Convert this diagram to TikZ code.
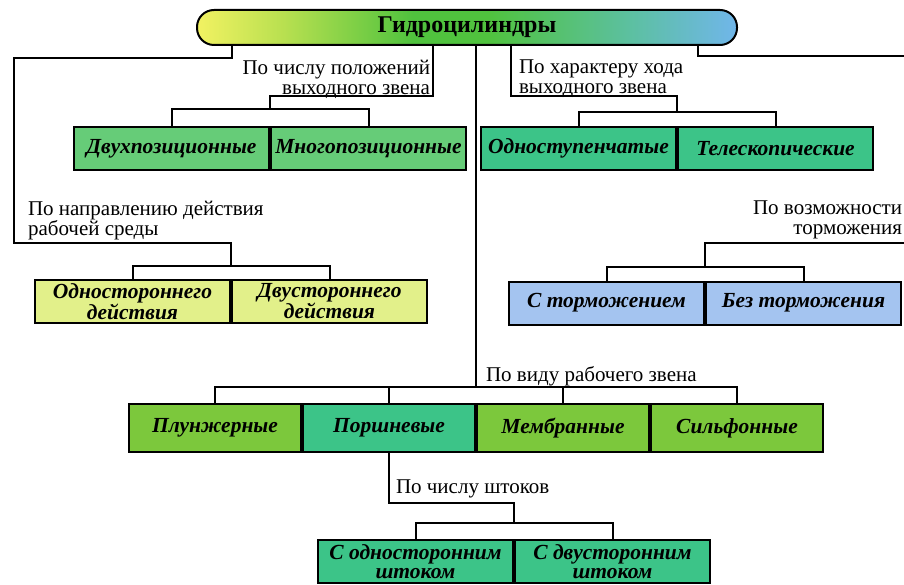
\documentclass[tikz,border=0pt]{standalone}
\usepackage{fontspec}
\setmainfont{Liberation Serif}
\usetikzlibrary{positioning}

\definecolor{palegreen}{HTML}{66CC78}
\definecolor{seagreen}{HTML}{3CC488}
\definecolor{grassgreen}{HTML}{7CC83C}
\definecolor{paleyellow}{HTML}{E2F08A}
\definecolor{skyblue}{HTML}{A4C4F0}
\definecolor{titleyellow}{HTML}{F2F262}
\definecolor{titlelime}{HTML}{B8E050}
\definecolor{titlegreen}{HTML}{50C23E}
\definecolor{titleteal}{HTML}{5CC0A0}
\definecolor{titleblue}{HTML}{70B6EA}
\pgfdeclarehorizontalshading{titlebar}{100bp}{color(0bp)=(titleyellow); color(25bp)=(titleyellow);
  color(33bp)=(titlelime); color(45bp)=(titlegreen); color(52bp)=(titlegreen);
  color(65bp)=(titleteal); color(75bp)=(titleblue); color(100bp)=(titleblue)}

\begin{document}
\begin{tikzpicture}[x=1pt,y=-1pt,line width=2pt,
  cell/.style={draw, minimum height=43pt, minimum width=195pt, inner sep=0pt,
    align=center, font=\fontsize{21.5}{19.5}\selectfont\bfseries\itshape},
  kind/.style={cell, minimum height=48pt, minimum width=172pt},
  note/.style={inner sep=0pt, font=\fontsize{21}{20}\selectfont}]

% page
\path[fill=white,use as bounding box] (0,0) rectangle (904,585);

% the title
\node[draw, rounded corners=17pt, minimum width=540pt, minimum height=35pt, shading=titlebar,
  font=\fontsize{24}{24}\selectfont\bfseries] (title) at (467,27.5) {Гидроцилиндры};

% the boxes
\node[cell, fill=palegreen] (twopos) at (171.5,148.5) {Двухпозиционные};
\node[cell, fill=palegreen, right=0pt of twopos] (multipos) {Многопозиционные};
\node[cell, fill=seagreen] (onestage) at (578.5,148.5) {Одноступенчатые};
\node[cell, fill=seagreen, right=0pt of onestage] (telesc) {Телескопические};
\node[cell, fill=paleyellow] (oneway) at (132.5,301.5) {Одностороннего\\действия};
\node[cell, fill=paleyellow, right=0pt of oneway] (twoway) {Двустороннего\\действия};
\node[cell, fill=skyblue] (brake) at (606.5,303) {С торможением};
\node[cell, fill=skyblue, right=0pt of brake] (nobrake) {Без торможения};
\node[kind, fill=grassgreen] (plunger) at (215,428) {Плунжерные};
\node[kind, fill=seagreen, right=0pt of plunger] (piston) {Поршневые};
\node[kind, fill=grassgreen, right=0pt of piston] (membrane) {Мембранные};
\node[kind, fill=grassgreen, right=0pt of membrane] (bellows) {Сильфонные};
\node[cell, fill=seagreen] (onerod) at (415.5,561.5) {С односторонним\\штоком};
\node[cell, fill=seagreen, right=0pt of onerod] (tworod) {С двусторонним\\штоком};

% the junctions
\coordinate (jpos) at ([yshift=17pt]twopos.north east);
\coordinate (jstroke) at ([yshift=14pt]onestage.north east);
\coordinate (jdir) at ([yshift=13pt]oneway.north east);
\coordinate (jbrake) at ([yshift=14pt]brake.north east);
\coordinate (jkind) at ([yshift=16pt]piston.north east);
\coordinate (jrod) at ([yshift=16pt]onerod.north east);

% from the title
\draw ([xshift=36pt]title.south west) -- ++(0,12) -| (14,243) -| (jdir);
\draw ([xshift=-34pt]title.south) -- ++(0,50) -| (jpos);
\draw ([xshift=44pt]title.south) -- ++(0,50) -| (jstroke);
\draw ([xshift=-40pt]title.south east) -- ++(0,10) -| (925,243) -| (jbrake);
\draw (title.south -| jkind) -- (jkind);
\draw (piston.south) -- ++(0,50) -| (jrod);

% the bars
\draw (twopos.north) |- (jpos) -| (multipos.north);
\draw (onestage.north) |- (jstroke) -| (telesc.north);
\draw (oneway.north) |- (jdir) -| (twoway.north);
\draw (brake.north) |- (jbrake) -| (nobrake.north);
\draw (plunger.north) |- (jkind) -| (bellows.north);
\draw (piston.north) -- (piston.north |- jkind);
\draw (membrane.north) -- (membrane.north |- jkind);
\draw (onerod.north) |- (jrod) -| (tworod.north);

% the labels
\node[note, align=right, anchor=north east] (lpos) at (431,59) {По числу положений\\выходного звена};
\node[note, align=left, anchor=north west] (lstroke) at (518,59) {По характеру хода\\выходного звена};
\node[note, align=left, anchor=north west] (ldir) at (27,200) {По направлению действия\\рабочей среды};
\node[note, align=right, anchor=north east] (lbrake) at (903,200) {По возможности\\торможения};
\node[note, anchor=base west] (lkind) at (485,381) {По виду рабочего звена};
\node[note, anchor=base west] (lrod) at (395,493) {По числу штоков};
\end{tikzpicture}
\end{document}
